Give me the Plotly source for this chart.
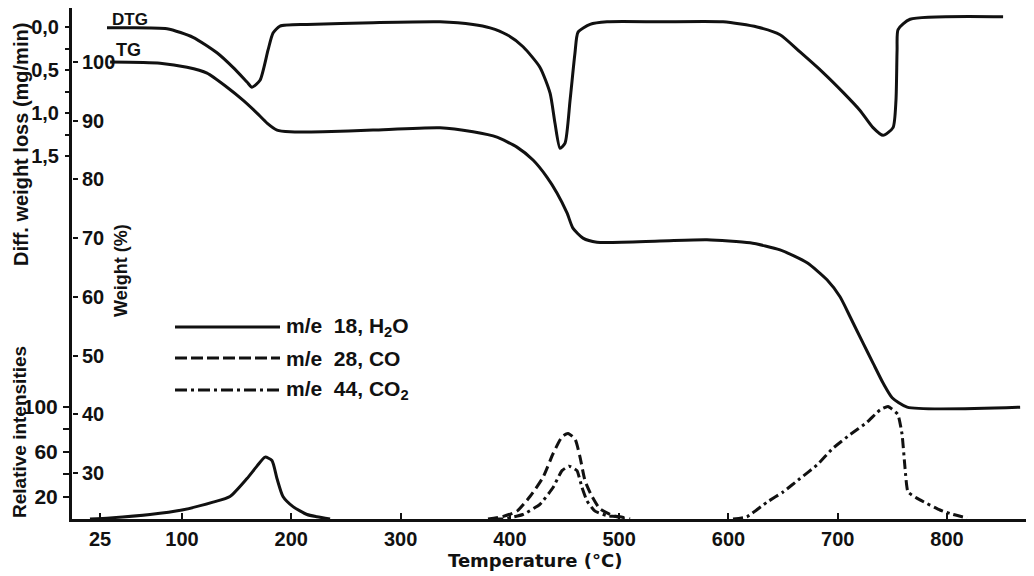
import plotly.graph_objects as go

# ---------------- data ----------------
dtg_temp = [31.4, 86.3, 110.1, 132.0, 146.7, 159.5, 164.0, 171.4, 178.7, 183.3, 189.7, 214.4,
            274.8, 336.1, 366.3, 381.9, 397.4, 412.1, 427.6, 436.8, 441.3, 445.9, 450.5, 455.1,
            459.6, 462.4, 473.4, 488.9, 537.4, 595.1, 626.2, 647.2, 665.5, 686.6, 704.9, 720.4,
            732.3, 741.5, 750.6, 753.3, 754.3, 755.2, 766.2, 851.3]
dtg_value = [0.01, 0.02, 0.12, 0.30, 0.47, 0.64, 0.70, 0.62, 0.27, 0.07, -0.01, -0.03,
             -0.05, -0.06, -0.03, 0.01, 0.09, 0.23, 0.47, 0.77, 1.12, 1.41, 1.35, 0.85,
             0.30, 0.06, -0.03, -0.06, -0.06, -0.06, 0.00, 0.09, 0.29, 0.53, 0.76, 0.97,
             1.17, 1.26, 1.17, 0.85, 0.27, 0.03, -0.09, -0.12]

tg_temp = [34.2, 80.0, 104.6, 122.9, 141.2, 155.8, 168.6, 177.8, 187.0, 198.9, 229.0, 274.8,
           336.1, 366.3, 388.2, 406.5, 421.2, 433.9, 443.1, 452.3, 457.7, 466.9, 479.7, 537.4,
           580.4, 619.8, 647.2, 672.0, 690.2, 702.1, 711.3, 723.2, 732.3, 741.5, 749.8, 763.5,
           866.9]
tg_weight = [100.0, 99.8, 99.1, 98.1, 95.7, 93.5, 91.3, 89.6, 88.4, 88.1, 88.1, 88.4,
             88.8, 88.1, 87.2, 85.5, 83.3, 80.4, 77.7, 74.3, 71.7, 70.0, 69.3, 69.5,
             69.7, 69.2, 68.0, 65.8, 62.9, 60.0, 56.6, 52.1, 48.7, 45.3, 42.8, 41.2,
             41.2]

h2o_temp = [15.8, 34.1, 70.7, 100.0, 128.4, 143.9, 159.5, 168.6, 176.0, 182.3, 186.9, 192.4,
            201.6, 214.4, 223.5, 235.5]
h2o_int = [0, 1, 4, 8, 15, 20, 36, 47, 55, 52, 36, 20, 11, 4, 2, 0]

co_temp = [380.0, 392.8, 406.5, 418.4, 430.3, 439.5, 447.7, 453.2, 459.6, 464.2, 468.8, 475.2,
           482.5, 494.4, 500.8, 510.0]
co_int = [0, 2, 7, 20, 37, 58, 73, 76, 71, 55, 34, 20, 9, 3, 2, 0]

co2_temp = [385.0, 393.7, 411.9, 427.5, 439.5, 447.7, 454.1, 461.4, 466.0, 470.6, 477.9, 488.9,
            498.0, 505.0, None,
            604.2, 617.0, 635.3, 650.0, 665.5, 681.0, 695.7, 711.3, 726.8, 738.7, 746.0, 755.0,
            758.9, 761.6, 764.3, 775.3, 793.6, 805.5, 818.3]
co2_int = [0, 0, 4, 13, 28, 43, 47, 43, 28, 16, 7, 3, 2, 0, None,
           0, 2, 15, 24, 36, 48, 63, 75, 86, 97, 100, 93,
           75, 45, 24, 17, 8, 4, 1]

temp_ticks = [25, 100, 200, 300, 400, 500, 600, 700, 800]
weight_ticks = [30, 40, 50, 60, 70, 80, 90, 100]
dtg_ticks = [0.0, 0.5, 1.0, 1.5]
dtg_ticktext = ["0,0", "0,5", "1,0", "1,5"]
dtg_minor = [0.25, 0.75, 1.25]
int_ticks = [20, 60, 100]
int_minor = [40, 80]

legend_labels = ["m/e  18, H<sub>2</sub>O", "m/e  28, CO", "m/e  44, CO<sub>2</sub>"]

# ---------------- layout geometry ----------------
# the page body has an 8px margin, so the figure is drawn 8px smaller
OFF = 8
W, H = 1034 - OFF, 576 - OFF
PLOT_L, PLOT_R, PLOT_T, PLOT_B = 72, 1030, 8, 519       # plot area in page pixels
ML, MT = PLOT_L - OFF, PLOT_T - OFF
MR = W - (PLOT_R - OFF)
MB = H - (PLOT_B - OFF)
PW, PH = PLOT_R - PLOT_L, PLOT_B - PLOT_T

FONT = "Liberation Sans, Arial, Helvetica, sans-serif"
WIDE = "DejaVu Sans, Liberation Sans, sans-serif"
BLACK = "#111111"


def px(x):
    return (x - PLOT_L) / PW


def py(y):
    return (PLOT_B - y) / PH


fig = go.Figure()

fig.add_trace(go.Scatter(x=dtg_temp, y=dtg_value, yaxis="y3", mode="lines",
                         line=dict(color=BLACK, width=3, shape="spline", smoothing=0.6),
                         showlegend=False, name="DTG"))
fig.add_trace(go.Scatter(x=tg_temp, y=tg_weight, yaxis="y2", mode="lines",
                         line=dict(color=BLACK, width=3, shape="spline", smoothing=0.6),
                         showlegend=False, name="TG"))
fig.add_trace(go.Scatter(x=h2o_temp, y=h2o_int, mode="lines",
                         line=dict(color=BLACK, width=3, shape="spline", smoothing=0.6),
                         showlegend=False, name="m/e 18"))
fig.add_trace(go.Scatter(x=co_temp, y=co_int, mode="lines",
                         line=dict(color=BLACK, width=3, shape="spline", smoothing=0.6,
                                   dash="10px,5px"),
                         showlegend=False, name="m/e 28"))
fig.add_trace(go.Scatter(x=co2_temp, y=co2_int, mode="lines", connectgaps=False,
                         line=dict(color=BLACK, width=3, shape="spline", smoothing=0.4,
                                   dash="10px,4px,3px,4px"),
                         showlegend=False, name="m/e 44"))

x_lo = -0.64
x_hi = x_lo + PW / 1.0929

int_top = PH / 1.125
w_top = 100 + (62 - PLOT_T) / 5.87
d_top = -(27 - PLOT_T) / 86

fig.update_layout(
    width=W, height=H,
    margin=dict(l=ML, r=MR, t=MT, b=MB, autoexpand=False),
    paper_bgcolor="white", plot_bgcolor="white",
    showlegend=False,
    font=dict(family=FONT, color=BLACK),
    xaxis=dict(range=[x_lo, x_hi], tickvals=temp_ticks, ticks="inside", ticklen=6,
               tickwidth=2, tickcolor=BLACK, showline=True, linewidth=3, linecolor=BLACK,
               showgrid=False, zeroline=False,
               tickfont=dict(family=FONT, size=20, color=BLACK, weight="bold"),
               ticklabelstandoff=0),
    yaxis=dict(range=[0, int_top], tickvals=int_ticks,
               ticks="outside", ticklen=6, tickwidth=2, tickcolor=BLACK,
               minor=dict(tickvals=int_minor, ticks="outside", ticklen=6, tickwidth=2,
                          tickcolor=BLACK),
               showline=True, linewidth=3, linecolor=BLACK, showgrid=False, zeroline=False,
               tickfont=dict(family=FONT, size=21, color=BLACK, weight="bold"),
               ticklabelstandoff=1),
    yaxis2=dict(overlaying="y", anchor="free", position=0, side="right",
                range=[w_top - PH / 5.87, w_top],
                tickvals=weight_ticks, ticks="outside", ticklen=5, tickwidth=2,
                tickcolor=BLACK, showline=False, showgrid=False, zeroline=False,
                tickfont=dict(family=FONT, size=20, color=BLACK, weight="bold"),
                ticklabelstandoff=0),
    yaxis3=dict(overlaying="y", side="left", anchor="x",
                range=[d_top + PH / 86, d_top],
                tickvals=dtg_ticks, ticktext=dtg_ticktext, ticks="outside", ticklen=6,
                tickwidth=2, tickcolor=BLACK,
                minor=dict(tickvals=dtg_minor, ticks="outside", ticklen=6, tickwidth=2,
                           tickcolor=BLACK),
                showline=False, showgrid=False, zeroline=False,
                tickfont=dict(family=FONT, size=20, color=BLACK, weight="bold"),
                ticklabelstandoff=2),
)

annotations = [
    dict(text="Diff. weight loss (mg/min)", x=px(21), y=py(145), textangle=-90,
         font=dict(size=20, weight="bold")),
    dict(text="Weight (%)", x=px(121), y=py(271), textangle=-90,
         font=dict(size=18, weight="bold")),
    dict(text="Relative intensities", x=px(19), y=py(432), textangle=-90,
         font=dict(size=19, weight="bold")),
    dict(text="Temperature (°C)", x=px(535), y=py(560),
         font=dict(family=WIDE, size=18, weight="bold")),
    dict(text="DTG", x=px(130), y=py(19), font=dict(size=17, weight="bold")),
    dict(text="TG", x=px(128), y=py(50), font=dict(size=18, weight="bold")),
]
legend_y = [327, 358, 390]
legend_dash = ["solid", "12px,4px", "12px,4px,3px,4px"]
shapes = []
for lab, yy, dsh in zip(legend_labels, legend_y, legend_dash):
    annotations.append(dict(text=lab, x=px(284), y=py(yy), xanchor="left",
                            font=dict(size=21, weight="bold")))
    shapes.append(dict(type="line", xref="paper", yref="paper", x0=px(175), x1=px(280),
                       y0=py(yy), y1=py(yy), line=dict(color=BLACK, width=3, dash=dsh)))

for a in annotations:
    a.setdefault("xref", "paper")
    a.setdefault("yref", "paper")
    a.setdefault("showarrow", False)
    a.setdefault("xanchor", "center")
    a.setdefault("yanchor", "middle")
    a["font"] = dict(color=BLACK, **{"family": FONT, **a["font"]})

fig.update_layout(annotations=annotations, shapes=shapes)

fig.write_html("out.html")
